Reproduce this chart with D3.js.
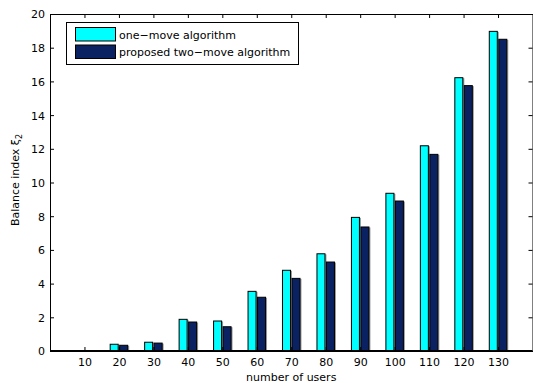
<!DOCTYPE html>
<html>
<head>
<meta charset="utf-8">
<script src="https://cdn.jsdelivr.net/npm/d3@7"></script>
<style>
  body { margin: 0; background: #fff; }
  svg { display: block; font-family: "DejaVu Sans", sans-serif; }
  .tick text { font-size: 11px; fill: #000; font-family: "DejaVu Sans", sans-serif; }
</style>
</head>
<body>
<svg id="chart" width="533" height="383"></svg>
<script>
// users on the x axis
const users = [10, 20, 30, 40, 50, 60, 70, 80, 90, 100, 110, 120, 130];
// balance index per series
const oneMove = [0, 0.40, 0.52, 1.88, 1.78, 3.54, 4.79, 5.77, 7.93, 9.36, 12.18, 16.22, 18.97];
const twoMove = [0, 0.34, 0.47, 1.72, 1.44, 3.19, 4.31, 5.28, 7.36, 8.90, 11.67, 15.75, 18.50];
const seriesNames = ['one\u2212move algorithm', 'proposed two\u2212move algorithm'];
const seriesColors = ['#00ffff', '#0b2262'];
const yTicks = [0, 2, 4, 6, 8, 10, 12, 14, 16, 18, 20];

const svg = d3.select('#chart');
const plotL = 50, plotR = 532.5, plotT = 14, plotB = 351;

const x = d3.scaleLinear().domain([0, 140]).range([plotL, plotR]);
const y = d3.scaleLinear().domain([0, 20]).range([plotB, plotT]);

const barW = 8, gap = 1.5;

// bars, a faint grey edge behind each like the original export
const series = [oneMove, twoMove];
series.forEach((vals, s) => {
    const off = s === 0 ? -barW - gap / 2 : gap / 2;
    const rows = vals.map((v, i) => ({ u: users[i], v })).filter(d => d.v > 0);
    const g = svg.append('g');
    g.selectAll('rect.shadow')
        .data(rows)
        .join('rect')
        .attr('class', 'shadow')
        .attr('x', d => x(d.u) + off + 0.5)
        .attr('y', d => y(d.v) + 0.5)
        .attr('width', barW + 1)
        .attr('height', d => y(0) - y(d.v))
        .attr('fill', '#9a9a9a');
    g.selectAll('rect.bar')
        .data(rows)
        .join('rect')
        .attr('class', 'bar')
        .attr('x', d => x(d.u) + off)
        .attr('y', d => y(d.v))
        .attr('width', barW)
        .attr('height', d => y(0) - y(d.v))
        .attr('fill', seriesColors[s])
        .attr('stroke', '#000')
        .attr('stroke-width', 1);
});

// baseline
svg.append('line')
    .attr('x1', plotL).attr('x2', plotR)
    .attr('y1', y(0)).attr('y2', y(0))
    .attr('stroke', '#000').attr('stroke-width', 2);

// axes, ticks pointing inward on all four sides
const tickLen = 4;
svg.append('g')
    .attr('transform', `translate(0,${plotB})`)
    .call(d3.axisBottom(x).tickValues(users).tickSize(-tickLen).tickPadding(7).tickSizeOuter(0));
svg.append('g')
    .attr('transform', `translate(0,${plotT})`)
    .call(d3.axisTop(x).tickValues(users).tickSize(-tickLen).tickFormat('').tickSizeOuter(0));
const yAxis = svg.append('g')
    .attr('transform', `translate(${plotL},0)`)
    .call(d3.axisLeft(y).tickValues(yTicks).tickSize(-tickLen).tickPadding(5).tickSizeOuter(0));
svg.append('g')
    .attr('transform', `translate(${plotR},0)`)
    .call(d3.axisRight(y).tickValues(yTicks).tickSize(-tickLen).tickFormat('').tickSizeOuter(0));

svg.selectAll('.domain').attr('stroke', '#000');
svg.selectAll('.tick line').attr('stroke', '#000');
yAxis.selectAll('.tick text').attr('dy', '0.36em');

// axis labels
svg.append('text')
    .attr('x', (plotL + plotR) / 2)
    .attr('y', 381)
    .attr('text-anchor', 'middle')
    .attr('font-size', 11)
    .text('number of users');

const yl = svg.append('text')
    .attr('transform', `translate(18.5,180) rotate(-90)`)
    .attr('text-anchor', 'middle')
    .attr('font-size', 11);
yl.append('tspan').text('Balance index \u03be');
yl.append('tspan').attr('font-size', 8).attr('dy', 3).text('2');

// legend
const lg = svg.append('g');
lg.append('rect')
    .attr('x', 66.5).attr('y', 22.5)
    .attr('width', 232).attr('height', 42)
    .attr('fill', '#fff').attr('stroke', '#000').attr('stroke-width', 1);
seriesNames.forEach((name, i) => {
    const yy = 27.5 + i * 17.5;
    lg.append('rect')
        .attr('x', 75.5).attr('y', yy)
        .attr('width', 40).attr('height', 13.5)
        .attr('fill', seriesColors[i]).attr('stroke', '#000');
    lg.append('text')
        .attr('x', 119).attr('y', yy + 11)
        .attr('font-size', 11)
        .text(name);
});
</script>
</body>
</html>
